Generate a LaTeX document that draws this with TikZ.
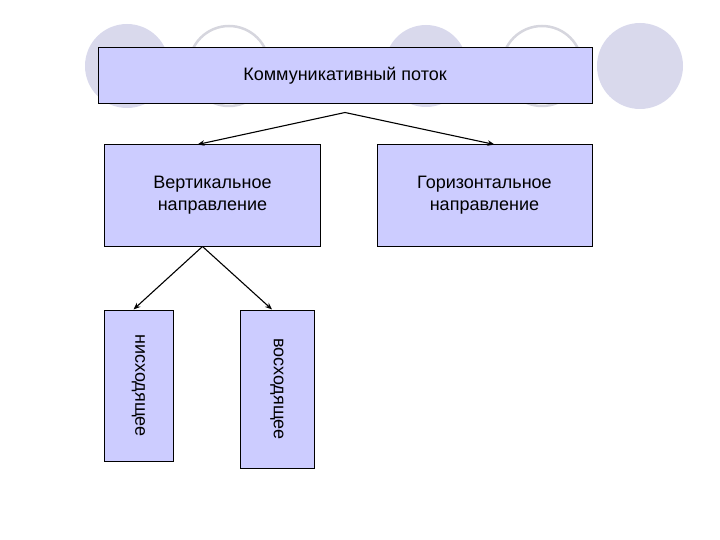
\documentclass[tikz,border=0pt]{standalone}
\usepackage{fontspec}
\setmainfont{Liberation Sans}
\usetikzlibrary{positioning}
\usetikzlibrary{arrows.meta}
\definecolor{boxfill}{HTML}{CCCCFF}
\definecolor{circfill}{HTML}{D9D9EC}
\definecolor{circline}{HTML}{D6D6DE}
\tikzset{
  box/.style={draw=black, fill=boxfill, line width=1pt, inner sep=0pt, align=center,
    font=\fontsize{18}{22}\selectfont},
  flow/.style={black, line width=1.1pt, -{Stealth[length=7pt,width=5.5pt]}},
  fullcirc/.style={fill=circfill},
  ringcirc/.style={draw=circline, line width=2.5pt, fill=white}
}

\begin{document}
\begin{tikzpicture}[x=1pt, y=-1pt]
\useasboundingbox (0,0) rectangle (720,540);
%circles
\fill[fullcirc] (127,66) circle (42pt);
\filldraw[ringcirc] (229,66) circle (40pt);
\fill[fullcirc] (426,66) circle (41pt);
\filldraw[ringcirc] (542,66) circle (40pt);
\fill[fullcirc] (640,66) circle (43pt);
%boxes
\node[box, minimum width=494, minimum height=56](kp) at (345,76){Коммуникативный поток};
\node[box, minimum width=216, minimum height=101](vert) at (212.5,195.5){Вертикальное\\направление};
\node[box, minimum width=215, minimum height=101](gor) at (484.5,195.5){Горизонтальное\\направление};
\node[box, rotate=-90, minimum width=151, minimum height=69](nis) at (138.5,385.5){нисходящее};
\node[box, rotate=-90, minimum width=158, minimum height=74](vos) at (277,389){восходящее};
%arrows
\coordinate (kpfork) at ([yshift=-8pt]kp.south);
\coordinate (vertfork) at ([xshift=-10pt]vert.south);
\draw[flow] (kpfork) -- ([xshift=-15pt]vert.north);
\draw[flow] (kpfork) -- ([xshift=10pt]gor.north);
\draw[flow] (vertfork) -- ([xshift=-5pt]nis.west);
\draw[flow] (vertfork) -- ([xshift=-5pt]vos.west);
\end{tikzpicture}
\end{document}
